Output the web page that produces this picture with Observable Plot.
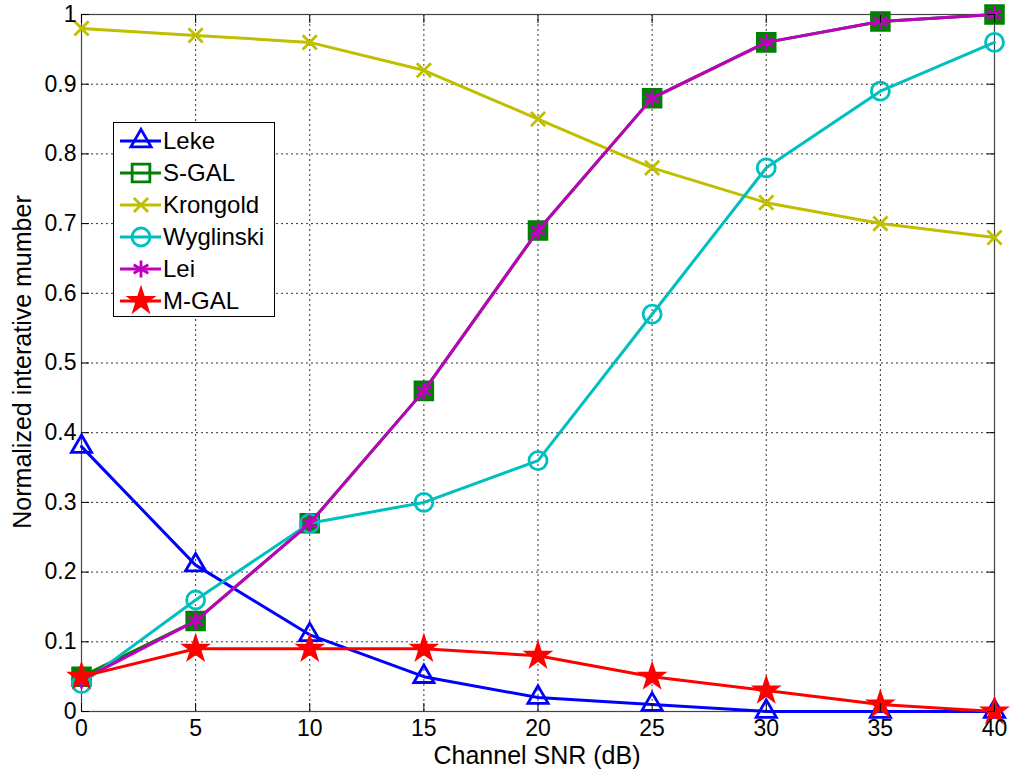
<!DOCTYPE html>
<html>
<head>
<meta charset="utf-8">
<script src="https://cdn.jsdelivr.net/npm/d3@7"></script>
<script src="https://cdn.jsdelivr.net/npm/@observablehq/plot@0.6"></script>
<style>
  body { margin: 0; background: #fff; font-family: "Liberation Sans", Arial, sans-serif; }
  #wrap { position: relative; width: 1011px; height: 773px; }
  #legend { position: absolute; left: 113px; top: 122px; width: 162px; height: 195px;
            background: #fff; border: 1px solid #000; box-sizing: border-box; padding-top: 2px; }
  .row { display: flex; align-items: center; height: 32px; }
  .row span { font-size: 24px; color: #000; margin-left: 1px; }
  #xlabel { position: absolute; left: 0; width: 1074px; top: 743px; line-height: 25px; text-align: center; font-size: 25px; color: #000; }
  #ylabel { position: absolute; left: 22px; top: 362px; font-size: 25px; line-height: 25px; color: #000; white-space: nowrap;
            transform: translate(-50%, -50%) rotate(-90deg); }
</style>
</head>
<body>
<div id="wrap"><div id="chart"></div><div id="legend"></div>
<div id="xlabel">Channel SNR (dB)</div><div id="ylabel">Normalized interative mumber</div></div>
<script>
const snr = [0, 5, 10, 15, 20, 25, 30, 35, 40];
const leke      = [0.38, 0.21, 0.11, 0.05, 0.02, 0.01, 0.0, 0.0, 0.0];
const sgal      = [0.05, 0.13, 0.27, 0.46, 0.69, 0.88, 0.96, 0.99, 1.0];
const krongold  = [0.98, 0.97, 0.96, 0.92, 0.85, 0.78, 0.73, 0.70, 0.68];
const wyglinski = [0.04, 0.16, 0.27, 0.30, 0.36, 0.57, 0.78, 0.89, 0.96];
const lei       = [0.045, 0.13, 0.27, 0.46, 0.69, 0.88, 0.96, 0.99, 1.0];
const mgal      = [0.05, 0.09, 0.09, 0.09, 0.08, 0.05, 0.03, 0.01, 0.0];
const xTicks = [0, 5, 10, 15, 20, 25, 30, 35, 40];
const yTicks = [0, 0.1, 0.2, 0.3, 0.4, 0.5, 0.6, 0.7, 0.8, 0.9, 1];

const names   = ["Leke", "S-GAL", "Krongold", "Wyglinski", "Lei", "M-GAL"];
const values  = [leke, sgal, krongold, wyglinski, lei, mgal];
const colors  = ["#0000ff", "#008000", "#bfbf00", "#00bfbf", "#bf00bf", "#ff0000"];
const symbols = ["triangle", "square", "times", "circle", "asterisk", "star"];
const radii   = [7.5, 10, 6.5, 9, 8, 7];
const fills   = ["none", "#008000", "none", "none", "none", "#ff0000"];

const marks = [];
marks.push(Plot.gridX(xTicks, {stroke: "#000", strokeOpacity: 0.8, strokeDasharray: "2,3", strokeWidth: 1}));
marks.push(Plot.gridY(yTicks, {stroke: "#000", strokeOpacity: 0.8, strokeDasharray: "2,3", strokeWidth: 1}));
marks.push(Plot.frame({stroke: "#444", strokeWidth: 1.2}));
names.forEach((n, i) => {
  const rows = snr.map((x, j) => ({x, y: values[i][j]}));
  marks.push(Plot.line(rows, {x: "x", y: "y", stroke: colors[i], strokeWidth: 3}));
  marks.push(Plot.dot(rows, {x: "x", y: "y", symbol: symbols[i], r: radii[i], stroke: colors[i],
    fill: fills[i], strokeWidth: 2.8}));
});
marks.push(Plot.axisX(xTicks, {tickSize: 0, tickPadding: 8, fontSize: 23, label: null}));
marks.push(Plot.axisX(xTicks, {anchor: "bottom", tickSize: -8, tickFormat: () => "", label: null}));
marks.push(Plot.axisX(xTicks, {anchor: "top", tickSize: -8, tickFormat: () => "", label: null}));
marks.push(Plot.axisY(yTicks, {tickSize: 0, tickPadding: 5, fontSize: 23, tickFormat: d => String(d), label: null}));
marks.push(Plot.axisY(yTicks, {anchor: "left", tickSize: -8, tickFormat: () => "", label: null}));
marks.push(Plot.axisY(yTicks, {anchor: "right", tickSize: -8, tickFormat: () => "", label: null}));

const chart = Plot.plot({
  width: 1011, height: 773,
  marginLeft: 81, marginRight: 17, marginTop: 14, marginBottom: 62,
  style: {fontFamily: "Liberation Sans, Arial, sans-serif", fontSize: "23px", color: "#000", background: "#fff"},
  x: {domain: [0, 40]},
  y: {domain: [0, 1]},
  marks
});
document.getElementById("chart").appendChild(chart);

// legend
const leg = document.getElementById("legend");
const symMap = {triangle: d3.symbolTriangle, square: d3.symbolSquare, times: d3.symbolTimes,
  circle: d3.symbolCircle, asterisk: d3.symbolAsterisk, star: d3.symbolStar};
names.forEach((n, i) => {
  const row = document.createElement("div");
  row.className = "row";
  const svg = d3.create("svg").attr("width", 48).attr("height", 32);
  svg.append("line").attr("x1", 6).attr("x2", 47).attr("y1", 16).attr("y2", 16)
    .attr("stroke", colors[i]).attr("stroke-width", 3);
  svg.append("path").attr("transform", "translate(27,16)")
    .attr("d", d3.symbol(symMap[symbols[i]], Math.PI * radii[i] * radii[i])())
    .attr("stroke", colors[i]).attr("stroke-width", 2.8)
    .attr("fill", symbols[i] === "star" ? colors[i] : "none");
  row.appendChild(svg.node());
  const t = document.createElement("span");
  t.textContent = n;
  row.appendChild(t);
  leg.appendChild(row);
});
</script>
</body>
</html>
